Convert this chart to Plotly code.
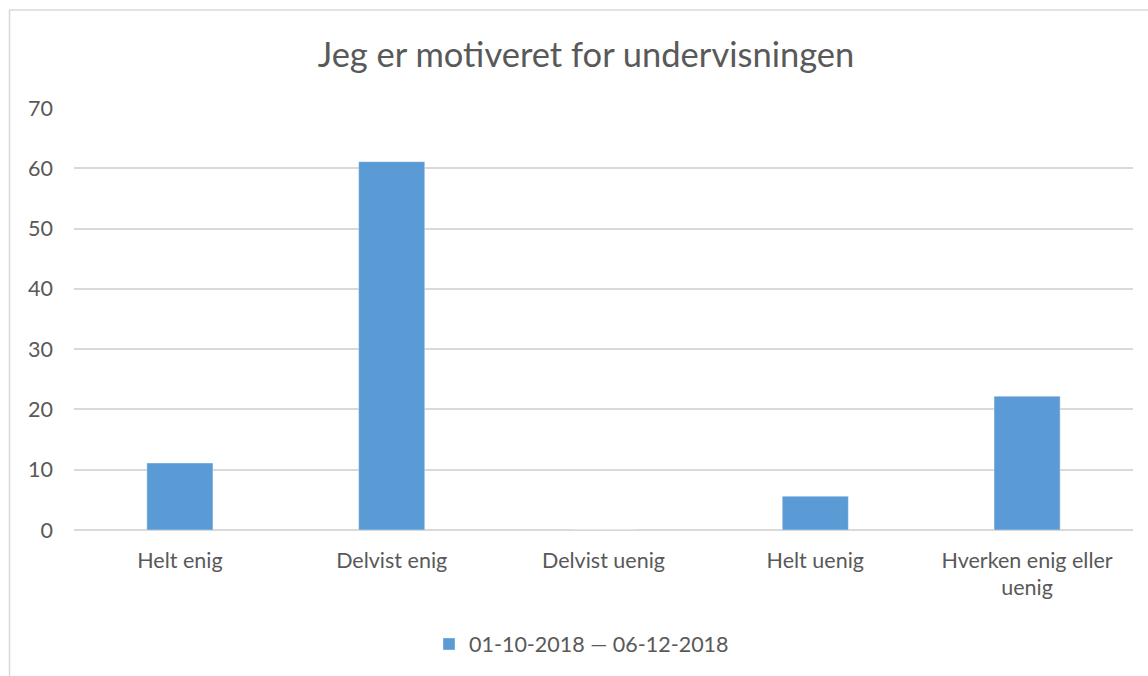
import plotly.graph_objects as go

categories = ["Helt enig", "Delvist enig", "Delvist uenig", "Helt uenig", "Hverken enig eller<br>uenig"]
values = [11.1, 61.1, 0, 5.6, 22.2]
series_name = "01-10-2018 — 06-12-2018"
title_text = "Jeg er motiveret for undervisningen"
y_ticks = [0, 10, 20, 30, 40, 50, 60, 70]

FONT = "Lato"
GREY = "#595959"
BLUE = "#5B9BD5"
GRID = "#D9D9D9"

W, H = 1148, 676
ML, MR, MT, MB = 74, 15, 108, 146
pw, ph = W - ML - MR, H - MT - MB


def px(xp):
    return (xp - ML) / pw


def py(yp):
    return (H - MB - yp) / ph


fig = go.Figure()
fig.add_trace(go.Bar(
    x=categories, y=values, name=series_name,
    marker=dict(color=BLUE, line=dict(color="rgba(255,255,255,0.35)", width=1)),
    showlegend=True,
))

fig.update_layout(
    width=W, height=H,
    paper_bgcolor="white", plot_bgcolor="white",
    margin=dict(l=ML, r=MR, t=MT, b=MB),
    title=dict(text=title_text, x=px(586), xanchor="center", xref="paper",
               y=1 - 55 / H, yanchor="middle",
               font=dict(family=FONT, size=34.5, color=GREY)),
    font=dict(family=FONT, color=GREY, size=21.5),
    bargap=0.688,
    showlegend=True,
    legend=dict(orientation="h", x=px(581.5), xanchor="center", xref="paper",
                y=py(644), yanchor="middle", font=dict(size=21.5, color=GREY),
                itemwidth=30),
    xaxis=dict(showgrid=False, showline=False, zeroline=False, ticks="",
               tickfont=dict(size=21.5, color=GREY), ticklabelstandoff=15),
    yaxis=dict(range=[0, 70], tickvals=y_ticks, showgrid=True, gridcolor=GRID,
               gridwidth=1.5, zeroline=True, zerolinecolor=GRID, zerolinewidth=1.5,
               showline=False, ticks="", tickfont=dict(size=21.5, color=GREY),
               ticklabelstandoff=20),
    shapes=[
        dict(type="line", xref="paper", yref="paper", x0=px(9), x1=px(W), y0=py(10), y1=py(10),
             line=dict(color=GRID, width=1.5)),
        dict(type="line", xref="paper", yref="paper", x0=px(9.5), x1=px(9.5), y0=py(10), y1=py(H),
             line=dict(color=GRID, width=1.5)),
    ],
)

fig.write_html("out.html", config={"displayModeBar": False},
               post_script="document.body.style.margin='0';")
